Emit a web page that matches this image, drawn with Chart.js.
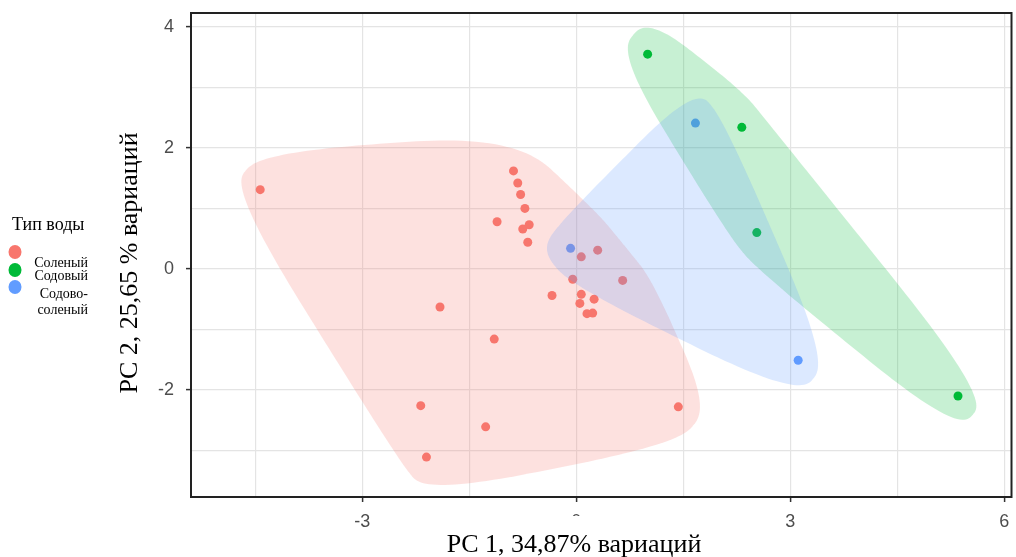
<!DOCTYPE html>
<html>
<head>
<meta charset="utf-8">
<script src="https://cdn.jsdelivr.net/npm/chart.js@4.4.0/dist/chart.umd.min.js"></script>
<style>
  html, body { margin: 0; padding: 0; background: #fff; }
  #wrap { width: 1016px; height: 557px; position: relative; }
</style>
</head>
<body>
<div id="wrap"><canvas id="pca"></canvas></div>
<script>
// water types and their colours
const waterTypes = ['Соленый', 'Содовый', 'Содово-соленый'];
const legendLines = [['Соленый'], ['Содовый'], ['Содово-', 'соленый']];
const typeColors = ['#F8766D', '#00BA38', '#619CFF'];

// PCA scores: PC1 / PC2
const saltyPC1 = [-4.43, -1.91, -1.11, -0.88, -0.82, -0.78, -0.72, -0.66, -0.75, -0.68,
                  0.07, 0.30, -0.05, 0.65, -0.34, 0.07, 0.25, 0.05, 0.15, 0.23,
                  -1.15, -2.18, -1.27, -2.10, 1.43];
const saltyPC2 = [1.31, -0.63, 0.78, 1.62, 1.42, 1.23, 1.00, 0.73, 0.66, 0.44,
                  0.20, 0.31, -0.17, -0.19, -0.44, -0.42, -0.50, -0.57, -0.74, -0.73,
                  -1.16, -2.26, -2.61, -3.11, -2.28];
const sodaPC1 = [1.00, 2.32, 2.53, 5.35];
const sodaPC2 = [3.55, 2.34, 0.60, -2.10];
const mixedPC1 = [-0.08, 1.67, 3.11];
const mixedPC2 = [0.34, 2.41, -1.51];

// grid positions and which of them get a label
const xTicks = [-4.5, -3, -1.5, 0, 1.5, 3, 4.5, 6];
const xLabelled = [-3, 0, 3, 6];
const yTicks = [-3, -2, -1, 0, 1, 2, 3, 4];
const yLabelled = [-2, 0, 2, 4];

// encircling shape: margin around each point (px) and spline shape
const ENC_EX = 30;
const ENC_EY = 37;
const ENC_SHAPE = 0.5;
const ENC_ALPHA = 0.22;

const toPoints = (xs, ys) => xs.map((x, i) => ({ x: x, y: ys[i] }));

function hexToRgba(hex, a) {
  const n = parseInt(hex.slice(1), 16);
  return 'rgba(' + (n >> 16) + ',' + ((n >> 8) & 255) + ',' + (n & 255) + ',' + a + ')';
}

function convexHull(pts) {
  const p = pts.slice().sort((a, b) => a[0] - b[0] || a[1] - b[1]);
  const cross = (o, a, b) => (a[0] - o[0]) * (b[1] - o[1]) - (a[1] - o[1]) * (b[0] - o[0]);
  const lower = [];
  for (const q of p) {
    while (lower.length >= 2 && cross(lower[lower.length - 2], lower[lower.length - 1], q) <= 0) lower.pop();
    lower.push(q);
  }
  const upper = [];
  for (let i = p.length - 1; i >= 0; i--) {
    const q = p[i];
    while (upper.length >= 2 && cross(upper[upper.length - 2], upper[upper.length - 1], q) <= 0) upper.pop();
    upper.push(q);
  }
  upper.pop();
  lower.pop();
  return lower.concat(upper);
}

// closed X-spline through the control polygon (all shapes equal, s > 0)
function xsplineClosed(ctrl, s, steps) {
  const n = ctrl.length;
  const out = [];
  const blend = (num, den) => {
    const p = 2 * den * den;
    const u = num / den;
    return u * u * u * (10 - p + (2 * p - 15) * u + (6 - p) * u * u);
  };
  for (let k = 0; k < n; k++) {
    const P = [ctrl[(k - 1 + n) % n], ctrl[k], ctrl[(k + 1) % n], ctrl[(k + 2) % n]];
    for (let j = 0; j < steps; j++) {
      const t = j / steps;
      const A = [
        t < s ? blend(t - s, -1 - s) : 0,
        blend(t - 1 - s, -1 - s),
        blend(t + s, 1 + s),
        t > 1 - s ? blend(t - 1 + s, 1 + s) : 0
      ];
      const w = A[0] + A[1] + A[2] + A[3];
      out.push([
        (A[0] * P[0][0] + A[1] * P[1][0] + A[2] * P[2][0] + A[3] * P[3][0]) / w,
        (A[0] * P[0][1] + A[1] * P[1][1] + A[2] * P[2][1] + A[3] * P[3][1]) / w
      ]);
    }
  }
  return out;
}

// smooth encircling region around each group of points
const encirclePlugin = {
  id: 'encircle',
  afterDatasetsDraw(chart) {
    const ctx = chart.ctx;
    const sx = chart.scales.x, sy = chart.scales.y;
    const area = chart.chartArea;
    ctx.save();
    ctx.beginPath();
    ctx.rect(area.left, area.top, area.right - area.left, area.bottom - area.top);
    ctx.clip();
    chart.data.datasets.forEach((ds) => {
      const spread = [];
      ds.data.forEach(p => {
        const px = sx.getPixelForValue(p.x), py = sy.getPixelForValue(p.y);
        spread.push([px + ENC_EX, py], [px - ENC_EX, py], [px, py + ENC_EY], [px, py - ENC_EY]);
      });
      const curve = xsplineClosed(convexHull(spread), ENC_SHAPE, 30);
      ctx.beginPath();
      curve.forEach((p, i) => i ? ctx.lineTo(p[0], p[1]) : ctx.moveTo(p[0], p[1]));
      ctx.closePath();
      ctx.fillStyle = hexToRgba(ds.backgroundColor, ENC_ALPHA);
      ctx.fill();
    });
    ctx.restore();
  }
};

// panel frame, axis titles and the legend on the left
const decorPlugin = {
  id: 'decor',
  afterDraw(chart) {
    const ctx = chart.ctx;
    const area = chart.chartArea;
    ctx.save();
    ctx.strokeStyle = '#222';
    ctx.lineWidth = 2;
    ctx.strokeRect(area.left, area.top, area.right - area.left, area.bottom - area.top);

    // x title sits in a white box
    ctx.font = '26px "Liberation Serif", "Times New Roman", serif';
    ctx.textAlign = 'center';
    ctx.textBaseline = 'middle';
    const xTitle = 'PC 1, 34,87% вариаций';
    const tw = ctx.measureText(xTitle).width;
    ctx.fillStyle = '#fff';
    ctx.fillRect(574 - tw / 2 - 6, 516, tw + 12, 41);
    ctx.fillStyle = '#000';
    ctx.fillText(xTitle, 574, 545);

    ctx.save();
    ctx.translate(130, 263);
    ctx.rotate(-Math.PI / 2);
    ctx.fillText('PC 2, 25,65 % вариаций', 0, 0);
    ctx.restore();

    // legend
    ctx.textAlign = 'left';
    ctx.font = '18px "Liberation Serif", "Times New Roman", serif';
    ctx.fillText('Тип воды', 12, 225);
    const dotY = [252, 270, 287];
    const textY = [[263], [276], [294, 310]];
    ctx.font = '14px "Liberation Serif", "Times New Roman", serif';
    ctx.textAlign = 'right';
    typeColors.forEach((c, i) => {
      ctx.fillStyle = c;
      ctx.beginPath();
      ctx.ellipse(15, dotY[i], 6.5, 7, 0, 0, Math.PI * 2);
      ctx.fill();
      ctx.fillStyle = '#000';
      legendLines[i].forEach((t, j) => ctx.fillText(t, 88, textY[i][j]));
    });
    ctx.restore();
  }
};

const tickFont = { family: '"Liberation Sans", Arial, sans-serif', size: 18 };

new Chart(document.getElementById('pca'), {
  type: 'scatter',
  data: {
    datasets: [{
      label: waterTypes[0],
      data: toPoints(saltyPC1, saltyPC2),
      backgroundColor: typeColors[0],
      borderWidth: 0,
      pointRadius: 4.5
    }, {
      label: waterTypes[1],
      data: toPoints(sodaPC1, sodaPC2),
      backgroundColor: typeColors[1],
      borderWidth: 0,
      pointRadius: 4.5
    }, {
      label: waterTypes[2],
      data: toPoints(mixedPC1, mixedPC2),
      backgroundColor: typeColors[2],
      borderWidth: 0,
      pointRadius: 4.5
    }]
  },
  options: {
    responsive: true,
    maintainAspectRatio: false,
    animation: false,
    layout: { padding: { left: 0, right: 3, top: 13, bottom: 0 } },
    scales: {
      x: {
        type: 'linear',
        min: -5.4,
        max: 6.1,
        afterBuildTicks: s => { s.ticks = xTicks.map(v => ({ value: v })); },
        afterFit: s => { s.height = 60; s.paddingLeft = 0; s.paddingRight = 0; },
        border: { display: false },
        grid: {
          color: '#E4E4E4',
          lineWidth: 1.2,
          tickLength: 5,
          tickWidth: 1.5,
          tickColor: c => xLabelled.includes(c.tick && c.tick.value) ? '#333' : 'rgba(0,0,0,0)'
        },
        ticks: {
          autoSkip: false,
          maxRotation: 0,
          padding: 9,
          color: '#4D4D4D',
          font: tickFont,
          callback: v => xLabelled.includes(v) ? String(v) : ''
        }
      },
      y: {
        type: 'linear',
        min: -3.77,
        max: 4.23,
        afterBuildTicks: s => { s.ticks = yTicks.map(v => ({ value: v })); },
        afterFit: s => { s.width = 191; s.paddingTop = 0; s.paddingBottom = 0; },
        border: { display: false },
        grid: {
          color: '#E4E4E4',
          lineWidth: 1.2,
          tickLength: 5,
          tickWidth: 1.5,
          tickColor: c => yLabelled.includes(c.tick && c.tick.value) ? '#333' : 'rgba(0,0,0,0)'
        },
        ticks: {
          padding: 12,
          color: '#4D4D4D',
          font: tickFont,
          callback: v => yLabelled.includes(v) ? String(v) : ''
        }
      }
    },
    plugins: {
      legend: { display: false },
      tooltip: { enabled: false }
    }
  },
  plugins: [encirclePlugin, decorPlugin]
});
</script>
</body>
</html>
